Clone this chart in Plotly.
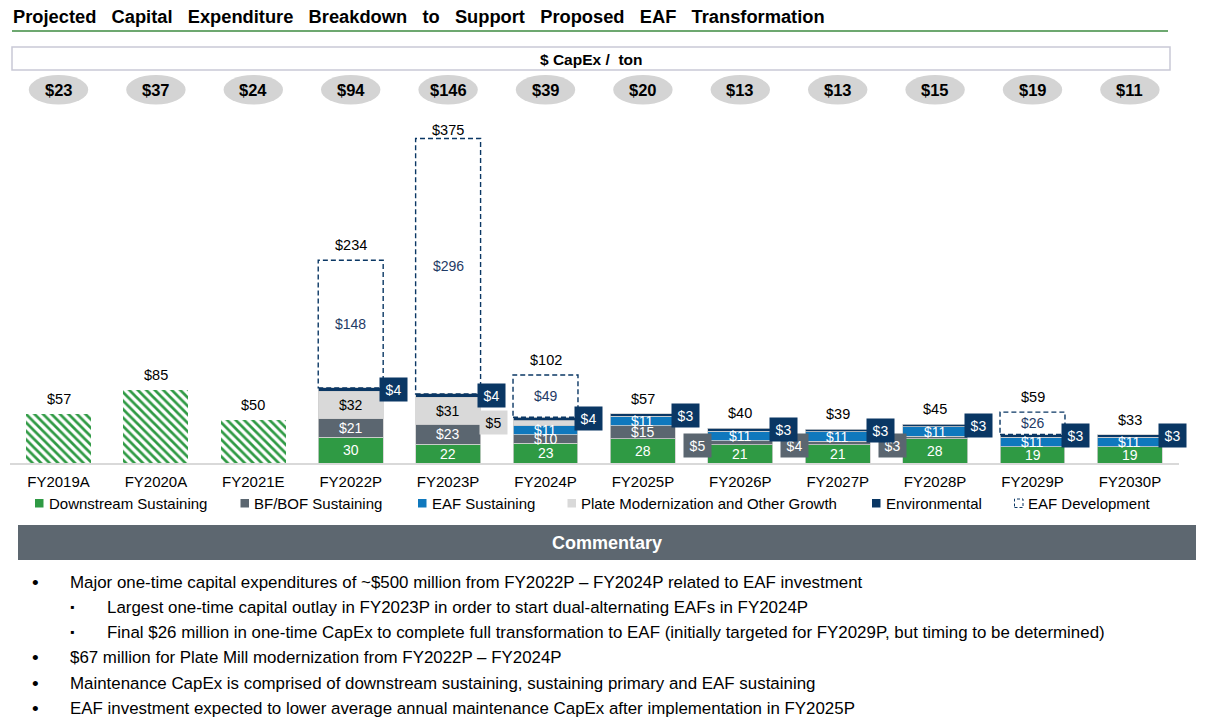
import plotly.graph_objects as go

# ---------------- data ----------------
categories = ["FY2019A", "FY2020A", "FY2021E", "FY2022P", "FY2023P", "FY2024P",
              "FY2025P", "FY2026P", "FY2027P", "FY2028P", "FY2029P", "FY2030P"]
capex_per_ton = [23, 37, 24, 94, 146, 39, 20, 13, 13, 15, 19, 11]
historical_total = [57, 85, 50, None, None, None, None, None, None, None, None, None]
downstream = [None, None, None, 30, 22, 23, 28, 21, 21, 28, 19, 19]
bf_bof = [None, None, None, 21, 23, 10, 15, 5, 4, 3, None, None]
eaf_sustaining = [None, None, None, None, None, 11, 11, 11, 11, 11, 11, 11]
plate = [None, None, None, 32, 31, 5, None, None, None, None, None, None]
environmental = [None, None, None, 4, 4, 4, 3, 3, 3, 3, 3, 3]
eaf_development = [None, None, None, 148, 296, 49, None, None, None, None, 26, None]
total_labels = [57, 85, 50, 234, 375, 102, 57, 40, 39, 45, 59, 33]

commentary = [
    (0, "Major one-time capital expenditures of ~$500 million from FY2022P – FY2024P related to EAF investment"),
    (1, "Largest one-time capital outlay in FY2023P in order to start dual-alternating EAFs in FY2024P"),
    (1, "Final $26 million in one-time CapEx to complete full transformation to EAF (initially targeted for FY2029P, but timing to be determined)"),
    (0, "$67 million for Plate Mill modernization from FY2022P – FY2024P"),
    (0, "Maintenance CapEx is comprised of downstream sustaining, sustaining primary and EAF sustaining"),
    (0, "EAF investment expected to lower average annual maintenance CapEx after implementation in FY2025P"),
]

# ---------------- styling ----------------
W, H = 1206, 722
FONT = "Liberation Sans, Arial, sans-serif"
GREEN = "#2f9a44"
DGRAY = "#5b6670"
BLUE = "#0f78bd"
LGRAY = "#d9d9d9"
NAVY = "#0a3764"
DEVTXT = "#1f3b66"
BARW = 0.667


def fx(px):
    return px / W


def fy(py):
    return 1 - py / H


series = [
    ("Downstream Sustaining", downstream, GREEN, "white"),
    ("BF/BOF Sustaining", bf_bof, DGRAY, "white"),
    ("EAF Sustaining", eaf_sustaining, BLUE, "white"),
    ("Plate Modernization and Other Growth", plate, LGRAY, "black"),
    ("Environmental", environmental, NAVY, "white"),
]

fig = go.Figure()

# historical hatched bars
fig.add_trace(go.Bar(
    x=categories, y=historical_total, name="Historical",
    marker=dict(color=GREEN, line=dict(width=0),
                pattern=dict(shape="\\", fgcolor=GREEN, bgcolor="white",
                             size=6, solidity=0.45, fillmode="replace")),
    hoverinfo="skip", showlegend=False))

for name, vals, col, _ in series:
    fig.add_trace(go.Bar(
        x=categories, y=vals, name=name,
        marker=dict(color=col, line=dict(color="#d0d0d0", width=0.8)),
        hoverinfo="skip", showlegend=False))

fig.add_trace(go.Bar(
    x=categories, y=eaf_development, name="EAF Development",
    marker=dict(color="rgba(255,255,255,0)", line=dict(width=0)),
    hoverinfo="skip", showlegend=False))

annotations = []
env_annotations = []
shapes = []

# segment labels
for i, cat in enumerate(categories):
    base = 0.0
    for name, vals, col, tcol in series:
        v = vals[i]
        if v is None:
            continue
        mid = base + v / 2
        if name == "Environmental":
            env_annotations.append(dict(
                x=i + BARW / 2, y=mid, xref="x", yref="y", xanchor="left", yanchor="middle",
                xshift=-4, text=f"${v}", showarrow=False, bgcolor=NAVY, width=20, height=16,
                borderpad=3.5, font=dict(size=14, color="white", family=FONT)))
        elif v < 6:
            if col == DGRAY:
                # small sustaining-primary boxes sit just above the baseline, left of the bar
                annotations.append(dict(
                    x=i - BARW / 2, y=0, xref="x", yref="y", xanchor="right", yanchor="bottom",
                    xshift=4, yshift=5, text=f"${v}", showarrow=False, bgcolor=col,
                    width=20, height=16, borderpad=3.5,
                    font=dict(size=14, color=tcol, family=FONT)))
            else:
                annotations.append(dict(
                    x=i - BARW / 2, y=mid, xref="x", yref="y", xanchor="right", yanchor="middle",
                    xshift=-5, text=f"${v}", showarrow=False, bgcolor=col,
                    width=20, height=16, borderpad=3.5,
                    font=dict(size=14, color=tcol, family=FONT)))
        else:
            txt = f"{v}" if name == "Downstream Sustaining" else f"${v}"
            annotations.append(dict(
                x=cat, y=mid, xref="x", yref="y", xanchor="center", yanchor="middle",
                text=txt, showarrow=False, font=dict(size=14, color=tcol, family=FONT)))
        base += v
    dev = eaf_development[i]
    if dev is not None:
        shapes.append(dict(
            type="rect", xref="x", yref="y", x0=i - BARW / 2, x1=i + BARW / 2,
            y0=base, y1=base + dev, line=dict(color=NAVY, width=1.4, dash="5px,3px"),
            fillcolor="rgba(0,0,0,0)", layer="above"))
        annotations.append(dict(
            x=cat, y=base + dev / 2, xref="x", yref="y", xanchor="center", yanchor="middle",
            text=f"${dev}", showarrow=False, font=dict(size=14, color=DEVTXT, family=FONT)))
    # totals
    t = total_labels[i]
    top = historical_total[i] if historical_total[i] is not None else base + (dev or 0)
    annotations.append(dict(
        x=cat, y=top, xref="x", yref="y", xanchor="center", yanchor="middle",
        yshift=(15 if t < 300 else 9),
        text=f"${t}", showarrow=False, font=dict(size=14.5, color="black", family=FONT)))

annotations.extend(env_annotations)

# title and header line
title_words = "Projected Capital Expenditure Breakdown to Support Proposed EAF Transformation".split(" ")
annotations.append(dict(
    x=fx(11), y=fy(17), xref="paper", yref="paper", xanchor="left", yanchor="middle",
    text="<b>" + "\u00a0\u00a0\u00a0".join(title_words) + "</b>", showarrow=False,
    font=dict(size=18.3, color="black", family=FONT)))
shapes.append(dict(type="line", xref="paper", yref="paper", x0=fx(12), x1=fx(1168),
                   y0=fy(31), y1=fy(31), line=dict(color="#3d8b40", width=1.5)))

# CapEx / ton box
shapes.append(dict(type="rect", xref="paper", yref="paper", x0=fx(12), x1=fx(1170),
                   y0=fy(70), y1=fy(47), line=dict(color="#c9c9d6", width=1.5),
                   fillcolor="white", layer="below"))
annotations.append(dict(
    x=fx(591), y=fy(59.5), xref="paper", yref="paper", xanchor="center", yanchor="middle",
    text="<b>$ CapEx /\u00a0 ton</b>",
    showarrow=False, font=dict(size=15.5, color="black", family=FONT)))

# per-ton ovals
for i, cat in enumerate(categories):
    shapes.append(dict(type="circle", xref="x", yref="paper", x0=i - 0.305, x1=i + 0.305,
                       y0=fy(104.5), y1=fy(75), fillcolor="#d4d4d4", line=dict(width=0)))
    annotations.append(dict(
        x=cat, y=fy(90), xref="x", yref="paper", xanchor="center", yanchor="middle",
        text=f"<b>${capex_per_ton[i]}</b>",
        showarrow=False, font=dict(size=16.5, color="black", family=FONT)))

# legend (custom)
legend_items = [
    ("Downstream Sustaining", GREEN, 35),
    ("BF/BOF Sustaining", DGRAY, 240.5),
    ("EAF Sustaining", BLUE, 418),
    ("Plate Modernization and Other Growth", LGRAY, 567.5),
    ("Environmental", NAVY, 872),
    ("EAF Development", None, 1014.5),
]
for label, col, left in legend_items:
    if col is None:
        shapes.append(dict(type="rect", xref="paper", yref="paper", x0=fx(left), x1=fx(left + 8.5),
                           y0=fy(507.5), y1=fy(499), line=dict(color=NAVY, width=1, dash="3px,2px"),
                           fillcolor="white"))
    else:
        shapes.append(dict(type="rect", xref="paper", yref="paper", x0=fx(left), x1=fx(left + 8.5),
                           y0=fy(507.5), y1=fy(499), line=dict(width=0), fillcolor=col))
    annotations.append(dict(
        x=fx(left + 11.5), y=fy(503), xref="paper", yref="paper", xanchor="left", yanchor="middle",
        text=label, showarrow=False, font=dict(size=15, color="black", family=FONT)))

# commentary header
shapes.append(dict(type="rect", xref="paper", yref="paper", x0=fx(18), x1=fx(1196),
                   y0=fy(560), y1=fy(525), fillcolor="#5d6770", line=dict(width=0)))
annotations.append(dict(
    x=fx(607), y=fy(543), xref="paper", yref="paper", xanchor="center", yanchor="middle",
    text="<b>Commentary</b>",
    showarrow=False, font=dict(size=18, color="white", family=FONT)))

# commentary bullets
line_y = [582, 607, 632, 657.5, 683, 708.5]
for (level, txt), yy in zip(commentary, line_y):
    bx, tx, sym, bsize = (35, 68, "•", 19) if level == 0 else (72, 105, "▪", 12)
    annotations.append(dict(
        x=fx(bx), y=fy(yy), xref="paper", yref="paper", xanchor="center", yanchor="middle",
        text=sym, showarrow=False, font=dict(size=bsize, color="black", family=FONT)))
    annotations.append(dict(
        x=fx(tx), y=fy(yy), xref="paper", yref="paper", xanchor="left", yanchor="middle",
        text=txt, showarrow=False, font=dict(size=16.9, color="black", family=FONT)))

fig.update_layout(
    width=W, height=H, margin=dict(l=0, r=0, t=0, b=0),
    paper_bgcolor="white", plot_bgcolor="white",
    barmode="stack", bargap=1 - BARW, showlegend=False,
    font=dict(family=FONT, color="black"),
    annotations=annotations, shapes=shapes,
    xaxis=dict(type="category", domain=[fx(9.8), fx(1178.6)], range=[-0.5, 11.5],
               showline=True, linecolor="#d9d9d9", linewidth=1.5, ticks="",
               showgrid=False, zeroline=False, fixedrange=True,
               tickfont=dict(size=15, color="black", family=FONT), ticklabelstandoff=4),
    yaxis=dict(domain=[fy(463), fy(117.8)], range=[0, 400], visible=False, fixedrange=True),
)

fig.write_html("out.html", config={"displayModeBar": False},
               post_script="document.body.style.margin='0';document.body.style.overflow='hidden';")
